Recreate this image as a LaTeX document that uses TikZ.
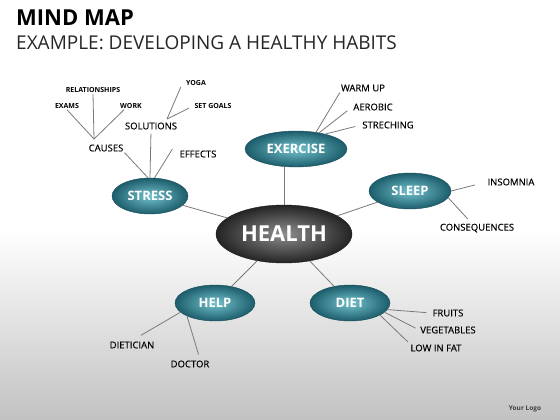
\documentclass[tikz,border=0pt]{standalone}
\usepackage{fontspec}
\setmainfont{Open Sans}
\newfontfamily\leaffont[FakeBold=0.3]{Open Sans}
\usetikzlibrary{shapes.geometric}
\definecolor{teallight}{HTML}{74C2CE}
\definecolor{tealdark}{HTML}{1C5D6B}
\definecolor{tealedge}{HTML}{174C58}
\definecolor{healthlight}{HTML}{8E8E8E}
\definecolor{healthdark}{HTML}{242424}
\definecolor{linegray}{HTML}{7A7A7A}
\definecolor{floorgray}{HTML}{C2C2C2}
\tikzset{
  branch/.style = {ellipse, inner sep = 0pt, minimum width = 80pt, minimum height = 36pt,
    draw = tealedge, line width = 0.4pt, shading = radial, inner color = teallight,
    outer color = tealdark, text = white, font = \bfseries\fontsize{13}{13}\selectfont},
  leaf/.style = {inner sep = 1pt, font = \leaffont\fontsize{9.5}{10}\selectfont},
  twig/.style = {inner sep = 1pt, font = \bfseries\fontsize{7}{7}\selectfont},
  link/.style = {draw = linegray, line width = 0.8pt}
}
\begin{document}
\begin{tikzpicture}[x = 1pt, y = -1pt]
            \useasboundingbox (0, 0) rectangle (560, 420);
            \fill [white] (0, 0) rectangle (560, 420);
            \shade [top color = white, bottom color = floorgray] (0, 230) rectangle (560, 420);
            \node [anchor = base west, inner sep = 0pt, font = \bfseries\fontsize{22}{22}\selectfont] (title) at (16, 26) {MIND MAP};
            \node [anchor = base west, inner sep = 0pt, text = black!85, font = \fontsize{19}{19}\selectfont] (subtitle) at (16, 50) {EXAMPLE: DEVELOPING A HEALTHY HABITS};

            \node [branch, minimum width = 136pt, minimum height = 58pt, draw = black!90,
              inner color = healthlight, outer color = healthdark, font = \bfseries\fontsize{22}{22}\selectfont] (health) at (284, 234) {HEALTH};
            \node [branch, minimum width = 102pt] (exercise) at (296, 149) {EXERCISE};
            \node [branch, minimum width = 82pt] (sleep) at (410, 191) {SLEEP};
            \node [branch, minimum width = 76pt] (stress) at (150, 196) {STRESS};
            \node [branch] (help) at (215, 303) {HELP};
            \node [branch] (diet) at (350, 303) {DIET};

            \draw [link] (health.north) -- (exercise.south -| health.north);
            \draw [link] (health) -- (sleep);
            \draw [link] (health) -- (stress);
            \draw [link] (health) -- (help);
            \draw [link] (health) -- (diet);

            % stress
            \node [leaf] (causes) at (106, 148) {CAUSES};
            \node [leaf] (solutions) at (151, 126) {SOLUTIONS};
            \node [leaf] (effects) at (198, 154) {EFFECTS};
            \node [twig] (exams) at (67, 106) {EXAMS};
            \node [twig] (relations) at (93, 90) {RELATIONSHIPS};
            \node [twig] (work) at (131, 106) {WORK};
            \node [twig] (yoga) at (196, 83) {YOGA};
            \node [twig] (setgoals) at (213, 106) {SET GOALS};
            \coordinate (causesjoin) at (94, 139);
            \coordinate (solutionsjoin) at (167, 119);
            \draw [link] (causes.south east) -- (stress.96);
            \draw [link, shorten <= 3pt] (solutions.south) -- (stress.north);
            \draw [link] ([xshift = -6pt, yshift = 5pt]effects.west) -- (stress.76);
            \draw [link] (exams.south) -- (causesjoin);
            \draw [link] (relations.south) -- (causesjoin);
            \draw [link] ([xshift = 5pt]work.south west) -- (causesjoin);
            \draw [link] ([xshift = -4pt]yoga.south west) -- (solutionsjoin);
            \draw [link, shorten <= 5pt] (setgoals.west) -- (solutionsjoin);

            % exercise
            \node [leaf] (warmup) at (363, 88) {WARM UP};
            \node [leaf] (aerobic) at (373, 107) {AEROBIC};
            \node [leaf] (streching) at (388, 125) {STRECHING};
            \draw [link] (exercise.40) -- (warmup.south west);
            \draw [link, shorten > = 6pt] (exercise.35) -- (aerobic.west);
            \draw [link, shorten > = 6pt] (exercise.27) -- (streching.west);

            % sleep
            \node [leaf] (insomnia) at (511, 182) {INSOMNIA};
            \node [leaf] (consequences) at (477, 228) {CONSEQUENCES};
            \draw [link, shorten > = 12pt] (sleep.east) -- (insomnia.west);
            \draw [link, shorten > = 5pt] (sleep.-10) -- ([xshift = -6pt]consequences.north);

            % help
            \node [leaf] (dietician) at (132, 345) {DIETICIAN};
            \node [leaf] (doctor) at (190, 364) {DOCTOR};
            \draw [link] (help.195) -- ([xshift = 9pt, yshift = 5pt]dietician.north);
            \draw [link, shorten > = 5pt] (help.205) -- ([xshift = 10pt]doctor.north);

            % diet
            \node [leaf] (fruits) at (448, 313) {FRUITS};
            \node [leaf] (vegetables) at (448, 330) {VEGETABLES};
            \node [leaf] (lowfat) at (436, 348) {LOW IN FAT};
            \draw [link, shorten > = 5pt] (diet.-10) -- (fruits.west);
            \draw [link, shorten > = 4pt] (diet.-15) -- (vegetables.west);
            \draw [link, shorten > = 2pt] (diet.-22) -- (lowfat.north west);

            \node [text = black!75, font = \bfseries\fontsize{6.5}{7}\selectfont] (logo) at (525, 409) {Your Logo};
        \end{tikzpicture}
\end{document}
